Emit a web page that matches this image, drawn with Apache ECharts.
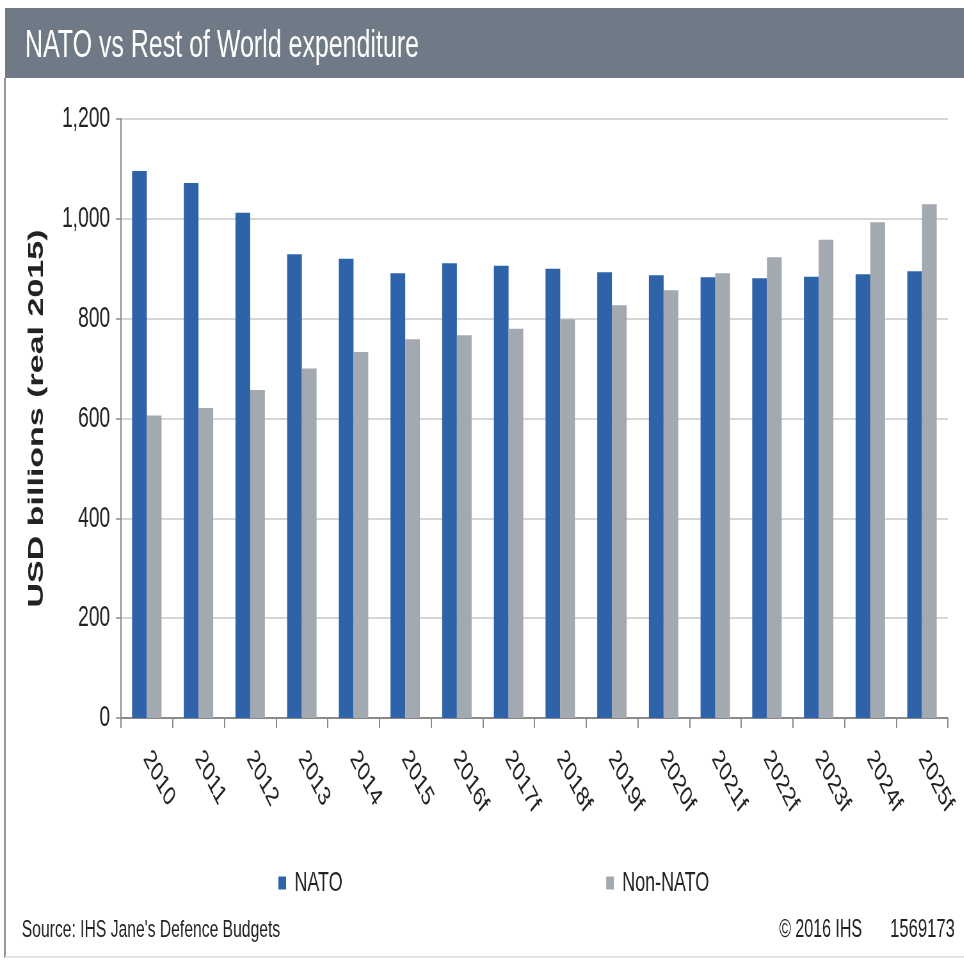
<!DOCTYPE html>
<html>
<head>
<meta charset="utf-8">
<script src="https://cdn.jsdelivr.net/npm/echarts@6/dist/echarts.min.js"></script>
<style>
html, body { margin: 0; padding: 0; background: #fff; overflow: hidden; }
/* 原图整体横向压缩，这里按宽画布绘制后再横向缩放 */
#chart { width: 1506px; height: 969px; transform: scaleX(0.64); transform-origin: 0 0; }
</style>
</head>
<body>
<div id="chart"></div>
<script>
// 数据
var years = ['2010', '2011', '2012', '2013', '2014', '2015', '2016f', '2017f',
    '2018f', '2019f', '2020f', '2021f', '2022f', '2023f', '2024f', '2025f'];
var natoValues = [1096, 1072, 1012, 929, 920, 891, 911, 906,
    900, 893, 887, 883, 881, 884, 889, 895];
var nonNatoValues = [606, 621, 657, 700, 733, 759, 767, 780,
    799, 827, 857, 891, 923, 958, 993, 1029];
var seriesNames = ['NATO', 'Non-NATO'];

var font = '"Liberation Sans", Arial, sans-serif';

var chart = echarts.init(document.getElementById('chart'));
var option = {
    backgroundColor: '#fff',
    animation: false,
    graphic: [
        // 标题栏
        {type: 'rect', shape: {x: 8, y: 8, width: 1498, height: 70}, style: {fill: '#707a86'}, z: 0},
        {type: 'text', x: 39, y: 46, style: {text: 'NATO vs Rest of World expenditure', fill: '#fff',
            font: '39px ' + font, verticalAlign: 'middle'}},
        // 边框
        {type: 'rect', shape: {x: 6, y: 78, width: 3, height: 880}, style: {fill: '#8d96a2'}},
        {type: 'rect', shape: {x: 8, y: 956, width: 1498, height: 2}, style: {fill: '#e3e3e3'}},
        // 脚注
        {type: 'text', x: 34, y: 930, style: {text: "Source: IHS Jane's Defence Budgets", fill: '#222',
            font: '24.5px ' + font, verticalAlign: 'middle'}},
        {type: 'text', x: 1347, y: 930, style: {text: '\u00a9 2016 IHS', fill: '#222',
            font: '25px ' + font, verticalAlign: 'middle', align: 'right'}},
        {type: 'text', x: 1492, y: 930, style: {text: '1569173', fill: '#222',
            font: '26px ' + font, verticalAlign: 'middle', align: 'right'}}
    ],
    legend: {
        data: seriesNames,
        left: 430,
        top: 864,
        itemWidth: 12,
        itemHeight: 13,
        itemGap: 412,
        icon: 'rect',
        textStyle: {fontSize: 28, color: '#222', fontFamily: font, padding: [0, 0, 0, 8]}
    },
    grid: {left: 189, right: 25, top: 119, bottom: 251},
    xAxis: {
        type: 'category',
        data: years,
        boundaryGap: true,
        axisLine: {lineStyle: {color: '#8a8a8a', width: 2}},
        axisTick: {show: true, length: 10, interval: 0, lineStyle: {color: '#8a8a8a', width: 2}},
        axisLabel: {interval: 0, rotate: -52, fontSize: 28, color: '#222', fontFamily: font, margin: 36}
    },
    yAxis: {
        type: 'value',
        min: 0,
        max: 1200,
        interval: 200,
        name: 'USD billions (real 2015)',
        nameLocation: 'middle',
        nameRotate: 90,
        nameGap: 114,
        nameTextStyle: {fontSize: 34, fontWeight: 'bold', color: '#222', fontFamily: font},
        axisLine: {show: true, lineStyle: {color: '#8a8a8a', width: 2}},
        axisTick: {show: true, length: 8, lineStyle: {color: '#8a8a8a', width: 1.5}},
        splitLine: {lineStyle: {color: '#c8c8c8', width: 1.5}},
        axisLabel: {
            fontSize: 30, color: '#222', fontFamily: font, margin: 17,
            formatter: function (v) { return v.toLocaleString('en-US'); }
        }
    },
    series: [
        {name: seriesNames[0], type: 'bar', data: natoValues, barWidth: 23, barGap: '0%',
            itemStyle: {color: '#2e63a9'}},
        {name: seriesNames[1], type: 'bar', data: nonNatoValues, barWidth: 23,
            itemStyle: {color: '#a3a9b0'}}
    ]
};
chart.setOption(option);
</script>
</body>
</html>
